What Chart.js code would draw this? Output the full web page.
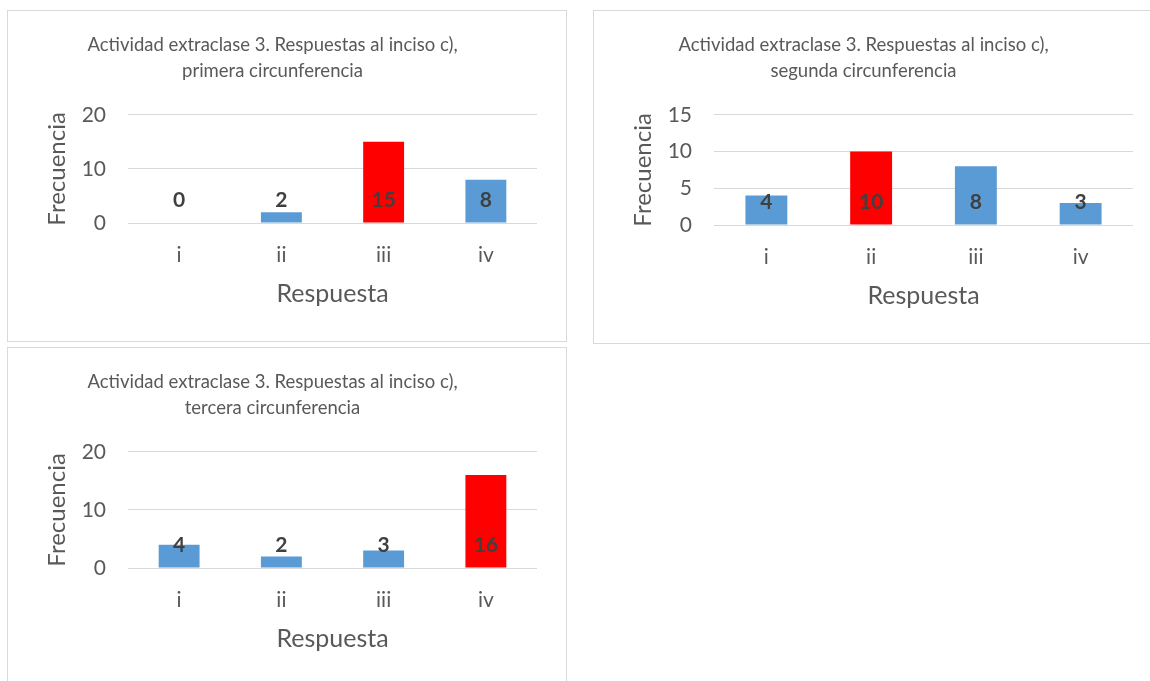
<!DOCTYPE html>
<html lang="es">
<head>
<meta charset="UTF-8">
<title>Actividad extraclase 3</title>
<script src="https://cdn.jsdelivr.net/npm/chart.js"></script>
<style>
  body { margin: 0; background: #fff; overflow: hidden; width: 1150px; height: 681px; position: relative; }
  .caja { position: absolute; border: 1px solid #d9d9d9; background: #fff; }
  canvas { display: block; }
</style>
</head>
<body>
<div class="caja" style="left:7px;top:10px;"><canvas id="g1" width="558" height="330"></canvas></div>
<div class="caja" style="left:593px;top:10px;"><canvas id="g2" width="580" height="332"></canvas></div>
<div class="caja" style="left:7px;top:347px;"><canvas id="g3" width="558" height="338"></canvas></div>

<script>
  const categorias = ["i", "ii", "iii", "iv"];
  const primera = [0, 2, 15, 8];
  const segunda = [4, 10, 8, 3];
  const tercera = [4, 2, 3, 16];
  const maximos = [20, 15, 20];
  const pasos = [10, 5, 10];

  const AZUL = "#5b9bd5";
  const ROJO = "#ff0000";
  const GRIS = "#595959";

  // la respuesta correcta va en rojo
  const colores1 = [AZUL, AZUL, ROJO, AZUL];
  const colores2 = [AZUL, ROJO, AZUL, AZUL];
  const colores3 = [AZUL, AZUL, AZUL, ROJO];

  const fuente = "Lato";

  // etiquetas de datos pegadas a la base, como en Excel
  const etiquetas = {
    id: "etiquetas",
    afterDatasetsDraw(chart) {
      const ctx = chart.ctx;
      const base = chart.scales.y.getPixelForValue(0);
      const valores = chart.data.datasets[0].data;
      ctx.save();
      ctx.font = "bold 21px " + fuente;
      ctx.fillStyle = "#404040";
      ctx.textAlign = "center";
      ctx.textBaseline = "middle";
      chart.getDatasetMeta(0).data.forEach((barra, i) => {
        ctx.fillText(valores[i], barra.x, base - 23);
      });
      ctx.restore();
    },
  };

  function grafica(id, titulo, valores, colores, maximo, paso, derecha) {
    new Chart(document.getElementById(id), {
      type: "bar",
      data: {
        labels: categorias,
        datasets: [
          {
            data: valores,
            backgroundColor: colores,
            barPercentage: 0.4,
            categoryPercentage: 1.0,
          },
        ],
      },
      options: {
        responsive: false,
        animation: false,
        layout: { padding: { left: 0, right: derecha, top: 0, bottom: 0 } },
        plugins: {
          legend: { display: false },
          tooltip: { enabled: false },
          title: {
            display: true,
            text: titulo,
            color: GRIS,
            font: { family: fuente, size: 18.5, weight: "normal", lineHeight: 1.4 },
            padding: { top: 21, bottom: 31 },
          },
        },
        scales: {
          x: {
            grid: { display: false },
            border: { display: false },
            ticks: { color: GRIS, font: { family: fuente, size: 21 }, padding: 12 },
            title: {
              display: true,
              text: "Respuesta",
              color: GRIS,
              font: { family: fuente, size: 25 },
              padding: { top: 0, bottom: 32 },
            },
            afterFit(escala) {
              escala.height = 118;
            },
          },
          y: {
            min: 0,
            max: maximo,
            grid: { color: "#d9d9d9", drawTicks: false },
            border: { display: false },
            ticks: { stepSize: paso, color: GRIS, font: { family: fuente, size: 21 }, padding: 22 },
            title: {
              display: true,
              text: "Frecuencia",
              color: GRIS,
              font: { family: fuente, size: 24 },
              padding: { top: 35, bottom: 0 },
            },
            afterFit(escala) {
              escala.width = 120;
            },
          },
        },
      },
      plugins: [etiquetas],
    });
  }

  grafica("g1", ["Actividad extraclase 3. Respuestas al inciso c),", "primera circunferencia"],
    primera, colores1, maximos[0], pasos[0], 29);
  grafica("g2", ["Actividad extraclase 3. Respuestas al inciso c),", "segunda circunferencia"],
    segunda, colores2, maximos[1], pasos[1], 41);
  grafica("g3", ["Actividad extraclase 3. Respuestas al inciso c),", "tercera circunferencia"],
    tercera, colores3, maximos[2], pasos[2], 29);
</script>
</body>
</html>
